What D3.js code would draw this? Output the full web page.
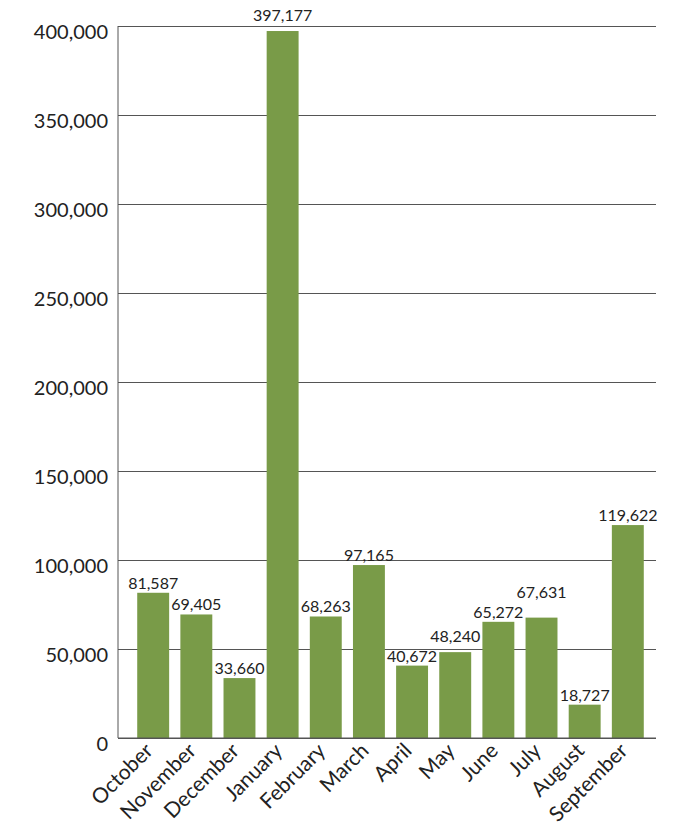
<!DOCTYPE html>
<html>
<head>
<meta charset="utf-8">
<script src="https://cdn.jsdelivr.net/npm/d3@7"></script>
<style>
  body { margin: 0; background: #fff; }
  .tick text { font-family: Lato, "Open Sans", sans-serif; fill: #222; }
  .label { font-family: Lato, "Open Sans", sans-serif; font-size: 16px; fill: #222; }
</style>
</head>
<body>
<div id="chart"></div>
<script>
var months = ["October", "November", "December", "January", "February", "March",
  "April", "May", "June", "July", "August", "September"];
var values = [81587, 69405, 33660, 397177, 68263, 97165, 40672, 48240, 65272, 67631, 18727, 119622];
var yTicks = [0, 50000, 100000, 150000, 200000, 250000, 300000, 350000, 400000];

var margin = { top: 26, right: 21, bottom: 93, left: 118 },
  width = 677 - margin.left - margin.right,
  height = 831 - margin.top - margin.bottom;

var x = d3.scaleBand()
  .domain(months)
  .range([8, width - 1])
  .padding(0.26);

var y = d3.scaleLinear()
  .domain([0, 400000])
  .range([height, 0]);

var svg = d3.select("#chart").append("svg")
  .attr("width", 677)
  .attr("height", 831)
  .append("g")
  .attr("transform", "translate(" + margin.left + "," + margin.top + ")");

// gridlines + y labels
var yAxis = d3.axisLeft(y)
  .tickValues(yTicks)
  .tickSize(-width)
  .tickPadding(10)
  .tickFormat(d3.format(","));

var gy = svg.append("g")
  .attr("class", "y axis")
  .call(yAxis);
gy.select(".domain").remove();
gy.selectAll(".tick line").attr("stroke", "#555");
gy.selectAll(".tick text")
  .attr("x", -10)
  .attr("dy", "0.62em")
  .style("font-size", "20px");

svg.append("line")
  .attr("x1", 0).attr("x2", 0)
  .attr("y1", 0).attr("y2", height)
  .attr("stroke", "#555");

svg.selectAll(".bar")
  .data(values)
  .enter().append("rect")
  .attr("class", "bar")
  .attr("x", function(d, i) { return x(months[i]); })
  .attr("width", x.bandwidth())
  .attr("y", function(d) { return y(d); })
  .attr("height", function(d) { return height - y(d); })
  .attr("fill", "#799b48");

// x axis
var gx = svg.append("g")
  .attr("class", "x axis")
  .attr("transform", "translate(0," + height + ")")
  .call(d3.axisBottom(x).tickSize(0).tickPadding(0));
gx.select(".domain").remove();
gx.selectAll(".tick text")
  .style("font-size", "21px")
  .style("text-anchor", "end")
  .attr("dy", null)
  .attr("y", 0)
  .attr("transform", "translate(1,14) rotate(-45)");

svg.append("line")
  .attr("x1", 0).attr("x2", width)
  .attr("y1", height).attr("y2", height)
  .attr("stroke", "#555");

// value labels
var labels = svg.selectAll(".label")
  .data(values)
  .enter().append("text")
  .attr("class", "label")
  .attr("text-anchor", "middle")
  .attr("x", function(d, i) { return x(months[i]) + x.bandwidth() / 2; })
  .attr("y", function(d) { return y(d) - 4; })
  .text(function(d) { return d3.format(",")(d); });

// lift labels clear of the top frame line and of the label before them
var prev = null;
labels.each(function() {
  var b = this.getBBox();
  if (b.y < 2) {
    d3.select(this).attr("y", -5);
    b = this.getBBox();
  }
  if (prev && b.x < prev.x + prev.width && Math.abs(b.y - prev.y) < b.height) {
    var ny = +d3.select(this).attr("y") - (b.y + b.height - prev.y) - 1;
    d3.select(this).attr("y", ny);
    b = this.getBBox();
  }
  prev = b;
});
</script>
</body>
</html>
